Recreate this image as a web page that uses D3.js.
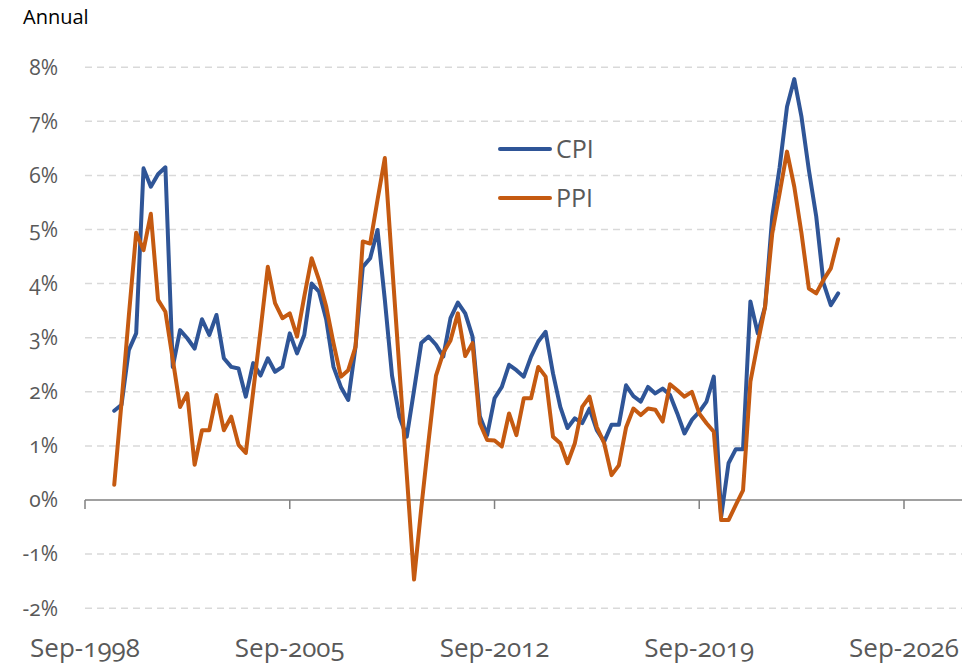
<!DOCTYPE html>
<html>
<head>
<meta charset="utf-8">
<script src="https://cdn.jsdelivr.net/npm/d3@7"></script>
<style>
  body { margin: 0; background: #fff; }
  svg text { font-family: "Open Sans", "Noto Sans", sans-serif; font-variant-numeric: oldstyle-nums; }
</style>
</head>
<body>
<div id="chart"></div>
<script>
// quarterly, Sep-1999 .. Jun-2024
var quarters = d3.timeMonth.range(new Date(1999, 8, 1), new Date(2024, 6, 1), 3);

var cpi = [
  1.65, 1.76,
  2.77, 3.08, 6.13, 5.79,
  6.02, 6.15, 2.46, 3.14,
  2.99, 2.80, 3.34, 3.05,
  3.42, 2.62, 2.46, 2.43,
  1.91, 2.53, 2.30, 2.62,
  2.37, 2.46, 3.08, 2.71,
  3.05, 4.00, 3.85, 3.33,
  2.46, 2.09, 1.85, 2.83,
  4.31, 4.47, 4.99, 3.70,
  2.30, 1.54, 1.17, 2.03,
  2.90, 3.02, 2.87, 2.65,
  3.36, 3.65, 3.45, 3.02,
  1.55, 1.20, 1.88, 2.09,
  2.50, 2.40, 2.28, 2.65,
  2.93, 3.11, 2.34, 1.72,
  1.33, 1.51, 1.42, 1.69,
  1.29, 1.08, 1.39, 1.39,
  2.12, 1.92, 1.82, 2.09,
  1.97, 2.06, 1.94, 1.60,
  1.23, 1.48, 1.63, 1.82,
  2.28, -0.31, 0.68, 0.94,
  0.94, 3.67, 3.08, 3.57,
  5.24, 6.15, 7.27, 7.78,
  7.08, 6.10, 5.24, 4.01,
  3.60, 3.82
];

var ppi = [
  0.28, 1.80,
  3.40, 4.94, 4.62, 5.29,
  3.70, 3.48, 2.60, 1.72,
  1.97, 0.65, 1.29, 1.29,
  1.94, 1.29, 1.54, 1.02,
  0.87, 2.00, 3.14, 4.31,
  3.64, 3.36, 3.45, 3.02,
  3.76, 4.47, 4.07, 3.57,
  2.90, 2.28, 2.40, 2.83,
  4.78, 4.74, 5.55, 6.32,
  4.37, 2.42, 0.47, -1.47,
  -0.15, 1.10, 2.30, 2.72,
  2.95, 3.45, 2.66, 2.90,
  1.42, 1.11, 1.10, 0.99,
  1.60, 1.20, 1.88, 1.88,
  2.46, 2.28, 1.17, 1.05,
  0.68, 1.05, 1.72, 1.91,
  1.35, 1.05, 0.46, 0.64,
  1.34, 1.69, 1.57, 1.69,
  1.67, 1.45, 2.14, 2.03,
  1.91, 2.00, 1.60, 1.42,
  1.26, -0.37, -0.37, -0.09,
  0.18, 2.19, 2.90, 3.57,
  4.93, 5.67, 6.44, 5.79,
  4.93, 3.91, 3.82, 4.07,
  4.28, 4.82
];

var seriesNames = ["CPI", "PPI"];
var seriesColors = ["#2F5597", "#C55A11"];
var yTicks = [-2, -1, 0, 1, 2, 3, 4, 5, 6, 7, 8];
var xTicks = [new Date(1998, 8, 1), new Date(2005, 8, 1), new Date(2012, 8, 1), new Date(2019, 8, 1), new Date(2026, 8, 1)];

var width = 967, height = 665;
var plotLeft = 85, plotRight = 962;

var svg = d3.select("#chart").append("svg")
    .attr("width", width)
    .attr("height", height);

var x = d3.scaleTime()
    .domain([xTicks[0], xTicks[xTicks.length - 1]])
    .range([85, 904]);

var y = d3.scaleLinear()
    .domain([-2, 8])
    .range([608.2, 67.2]);

// gridlines
svg.append("g")
    .selectAll("line")
    .data(yTicks.filter(function(d) { return d !== 0; }))
    .enter().append("line")
    .attr("x1", plotLeft)
    .attr("x2", plotRight)
    .attr("y1", function(d) { return y(d); })
    .attr("y2", function(d) { return y(d); })
    .style("stroke", "#D9D9D9")
    .style("stroke-width", 1.5)
    .style("stroke-dasharray", "7,5");

// y labels
svg.append("g")
    .selectAll("text")
    .data(yTicks)
    .enter().append("text")
    .attr("x", 58)
    .attr("y", function(d) { return y(d); })
    .attr("dy", "0.35em")
    .attr("text-anchor", "end")
    .style("font-size", "21px")
    .style("fill", "#595959")
    .text(function(d) { return d + "%"; });

// zero axis with ticks
var xAxis = svg.append("g")
    .attr("transform", "translate(0," + y(0) + ")");
xAxis.append("line")
    .attr("x1", plotLeft)
    .attr("x2", plotRight)
    .style("stroke", "#808080")
    .style("stroke-width", 1.5);
xAxis.selectAll(".tick")
    .data(xTicks)
    .enter().append("line")
    .attr("x1", function(d) { return x(d); })
    .attr("x2", function(d) { return x(d); })
    .attr("y1", 0)
    .attr("y2", 9)
    .style("stroke", "#808080")
    .style("stroke-width", 1.5);

// x labels along the bottom
var fmt = d3.timeFormat("%b-%Y");
svg.append("g")
    .selectAll("text")
    .data(xTicks)
    .enter().append("text")
    .attr("x", function(d) { return x(d); })
    .attr("y", 657)
    .attr("text-anchor", "middle")
    .style("font-size", "26px")
    .style("fill", "#595959")
    .text(function(d) { return fmt(d); });

// lines
var line = d3.line()
    .x(function(d) { return x(d[0]); })
    .y(function(d) { return y(d[1]); });

[cpi, ppi].forEach(function(vals, k) {
    svg.append("path")
        .datum(quarters.map(function(q, i) { return [q, vals[i]]; }))
        .attr("d", line)
        .style("fill", "none")
        .style("stroke", seriesColors[k])
        .style("stroke-width", 4)
        .style("stroke-linejoin", "round")
        .style("stroke-linecap", "round");
});

// legend
var legend = svg.append("g");
seriesNames.forEach(function(name, k) {
    var ly = 149 + k * 49;
    legend.append("line")
        .attr("x1", 500).attr("x2", 550)
        .attr("y1", ly).attr("y2", ly)
        .style("stroke", seriesColors[k])
        .style("stroke-width", 4)
        .style("stroke-linecap", "round");
    legend.append("text")
        .attr("x", 556)
        .attr("y", ly)
        .attr("dy", "0.35em")
        .style("font-size", "25px")
        .style("fill", "#595959")
        .text(name);
});

svg.append("text")
    .attr("x", 23)
    .attr("y", 24)
    .style("font-size", "20px")
    .style("fill", "#000")
    .text("Annual");
</script>
</body>
</html>
